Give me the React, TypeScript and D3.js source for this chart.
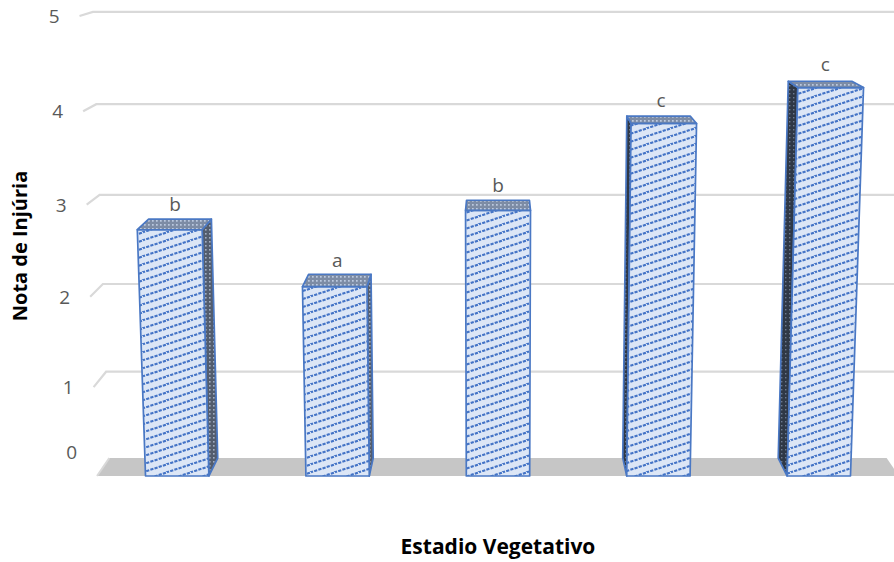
import React from "react";
import * as d3 from "d3";

// Injury score by vegetative stage, with the letter groups from the mean comparison
const stages = ["S1", "S2", "S3", "S4", "S5"];
const injuryScores = [2.73, 2.11, 2.94, 3.87, 4.25];
const groupLetters = ["b", "a", "b", "c", "c"];
const valueTicks = [0, 1, 2, 3, 4, 5];

const WIDTH = 894;
const HEIGHT = 562;

// Pinhole camera, tilted slightly downward, no yaw
const CX = 497;
const CY = 240;
const HORIZON_Y = -110;
const VERTICAL_VANISH_Y = 11000;
const FOCAL = Math.sqrt((CY - HORIZON_Y) * (VERTICAL_VANISH_Y - CY));
const TILT = Math.atan((CY - HORIZON_Y) / FOCAL);
const COS = Math.cos(TILT);
const SIN = Math.sin(TILT);

type P2 = [number, number];

function project(X: number, Y: number, Z: number): P2 {
  const yc = Y * COS + Z * SIN;
  const zc = -Y * SIN + Z * COS;
  return [CX + (FOCAL * X) / zc, CY - (FOCAL * yc) / zc];
}
function worldYAt(sy: number, Z: number) {
  const t = (CY - sy) / FOCAL;
  return (Z * (t * COS - SIN)) / (COS + t * SIN);
}
function worldZAt(sy: number, Y: number) {
  const t = (CY - sy) / FOCAL;
  return (Y * (COS + t * SIN)) / (t * COS - SIN);
}
function worldXAt(sx: number, Y: number, Z: number) {
  const zc = -Y * SIN + Z * COS;
  return ((sx - CX) * zc) / FOCAL;
}

// Plot box: front floor edge, front top, back floor edge, side walls
const Z_FRONT = 1000;
const Y_FLOOR = worldYAt(476, Z_FRONT);
const Y_TOP = worldYAt(16, Z_FRONT);
const Z_BACK = worldZAt(458, Y_FLOOR);
const X_LEFT = worldXAt(97, Y_FLOOR, Z_FRONT);
const X_RIGHT = worldXAt(899, Y_FLOOR, Z_FRONT);
const BAR_DEPTH = 1;

const yScale = d3.scaleLinear().domain([0, 5]).range([Y_FLOOR, Y_TOP]);
const xScale = d3
  .scaleBand<string>()
  .domain(stages)
  .range([X_LEFT, X_RIGHT])
  .paddingInner(0.605)
  .paddingOuter(0.3025);

const poly = (pts: P2[]) => "M" + pts.map((p) => p.join(",")).join("L") + "Z";

const FONT = "'Open Sans', 'Liberation Sans', sans-serif";
const OUTLINE = "#4a78c4";

export default function App() {
  const zb = Z_FRONT + BAR_DEPTH * (Z_BACK - Z_FRONT);

  const floorFrontLeft = project(X_LEFT, Y_FLOOR, Z_FRONT);
  const floorBack = project(X_LEFT, Y_FLOOR, Z_BACK);
  const floor = poly([
    floorFrontLeft,
    project(X_RIGHT, Y_FLOOR, Z_FRONT),
    project(X_RIGHT, Y_FLOOR, Z_BACK),
    floorBack,
  ]);

  const bars = stages.map((s, i) => {
    const X0 = xScale(s)!;
    const X1 = X0 + xScale.bandwidth();
    const Y1 = yScale(injuryScores[i]);
    const front = poly([
      project(X0, Y_FLOOR, Z_FRONT),
      project(X1, Y_FLOOR, Z_FRONT),
      project(X1, Y1, Z_FRONT),
      project(X0, Y1, Z_FRONT),
    ]);
    const top = poly([
      project(X0, Y1, Z_FRONT),
      project(X1, Y1, Z_FRONT),
      project(X1, Y1, zb),
      project(X0, Y1, zb),
    ]);
    let side: string | null = null;
    const sideX = X1 < 0 ? X1 : X0 > 0 ? X0 : null;
    if (sideX !== null) {
      side = poly([
        project(sideX, Y_FLOOR, Z_FRONT),
        project(sideX, Y_FLOOR, zb),
        project(sideX, Y1, zb),
        project(sideX, Y1, Z_FRONT),
      ]);
    }
    const label = project((X0 + X1) / 2, Y1, (Z_FRONT + zb) / 2);
    return { key: s, front, top, side, label, letter: groupLetters[i], leftOfCenter: X1 < 0 };
  });

  return (
    <svg width={WIDTH} height={HEIGHT} style={{ position: "absolute", left: 0, top: 0, background: "#fff" }}>
      <defs>
        <pattern id="frontHatch" patternUnits="userSpaceOnUse" width="24" height="8">
          <rect width="24" height="8" fill="#dce6f6" />
          <path
            d="M-2,8.6 L26,-0.7 M-2,0.6 L2,-0.7 M22,8.6 L26,7.3"
            stroke="#4373c6"
            strokeWidth="2.1"
            strokeDasharray="3.2 1.2"
          />
        </pattern>
        <pattern id="topHatch" patternUnits="userSpaceOnUse" width="4" height="4">
          <rect width="4" height="4" fill="#7d8ca5" />
          <rect x="0" y="0" width="1.7" height="1.7" fill="#bccae0" />
        </pattern>
        <pattern id="sideHatchLight" patternUnits="userSpaceOnUse" width="4" height="4">
          <rect width="4" height="4" fill="#535d6e" />
          <rect x="1" y="1" width="1.6" height="1.6" fill="#a2aec2" />
        </pattern>
        <pattern id="sideHatchDark" patternUnits="userSpaceOnUse" width="4" height="4">
          <rect width="4" height="4" fill="#2f3846" />
          <rect x="1" y="1" width="1.4" height="1.4" fill="#6d7a90" />
        </pattern>
      </defs>

      {/* floor */}
      <path d={floor} fill="#c6c6c6" />
      <line
        x1={floorFrontLeft[0]}
        y1={floorFrontLeft[1]}
        x2={floorBack[0]}
        y2={floorBack[1]}
        stroke="#d9d9d9"
        strokeWidth={2}
      />

      {/* gridlines on the side wall and back wall */}
      {valueTicks
        .filter((v) => v > 0)
        .map((v) => {
          const Y = yScale(v);
          const a = project(X_LEFT, Y, Z_FRONT);
          const b = project(X_LEFT, Y, Z_BACK);
          const c = project(X_RIGHT, Y, Z_BACK);
          return (
            <path
              key={v}
              d={`M${a[0]},${a[1]}L${b[0]},${b[1]}L${Math.max(c[0], WIDTH)},${c[1]}`}
              fill="none"
              stroke="#d9d9d9"
              strokeWidth={2.2}
            />
          );
        })}

      {/* value axis labels */}
      {valueTicks.map((v) => {
        const p = project(X_LEFT, yScale(v), Z_FRONT);
        const y = Math.min(p[1], floorBack[1] - 6);
        return (
          <text
            key={v}
            x={p[0] - 20}
            y={y}
            dy="0.36em"
            textAnchor="end"
            fontFamily={FONT}
            fontSize={19}
            fill="#595959"
          >
            {v}
          </text>
        );
      })}

      {/* bars */}
      {bars.map((b) => (
        <g key={b.key} stroke={OUTLINE} strokeWidth={1.7} strokeLinejoin="round">
          {b.side && <path d={b.side} fill={b.leftOfCenter ? "url(#sideHatchLight)" : "url(#sideHatchDark)"} />}
          <path d={b.front} fill="url(#frontHatch)" />
          <path d={b.top} fill="url(#topHatch)" />
        </g>
      ))}

      {/* group letters */}
      {bars.map((b) => (
        <text
          key={"l" + b.key}
          x={b.label[0]}
          y={b.label[1] - 13}
          textAnchor="middle"
          fontFamily={FONT}
          fontSize={19}
          fill="#595959"
        >
          {b.letter}
        </text>
      ))}

      {/* axis titles */}
      <text
        transform="translate(27,246) rotate(-90)"
        textAnchor="middle"
        fontFamily={FONT}
        fontWeight="bold"
        fontSize={20}
        fill="#000"
      >
        Nota de Injúria
      </text>
      <text x={498} y={554} textAnchor="middle" fontFamily={FONT} fontWeight="bold" fontSize={21} fill="#000">
        Estadio Vegetativo
      </text>
    </svg>
  );
}
